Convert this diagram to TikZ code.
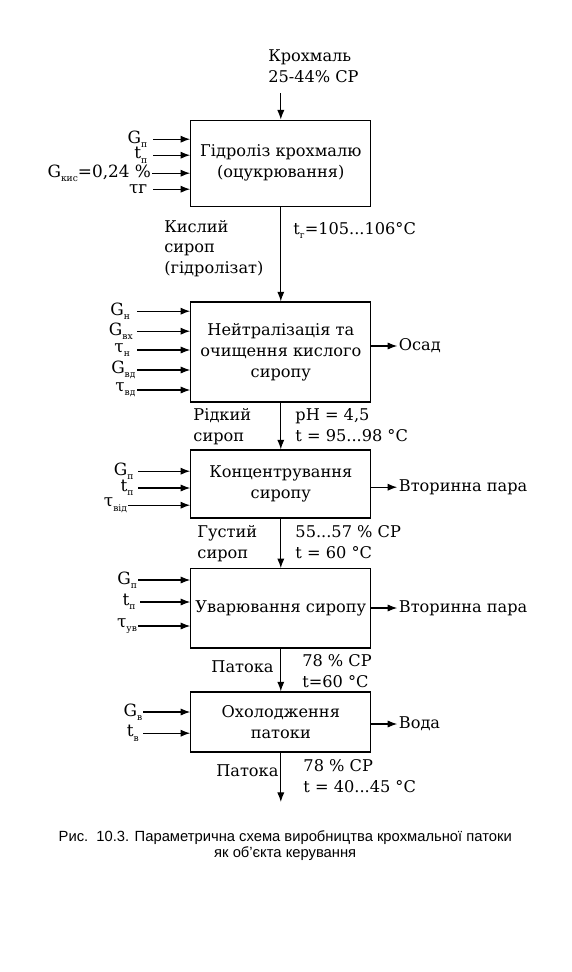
\documentclass[tikz,border=0pt]{standalone}
\usepackage{fontspec}
\setmainfont{DejaVu Serif}
\newfontfamily\capfont{Liberation Sans}
\usepackage{tikz}
\usetikzlibrary{calc,arrows.meta}
\newcommand{\lowsub}[1]{\raisebox{-0.5ex}{\fontsize{6.5}{7}\selectfont #1}}

\begin{document}
\begin{tikzpicture}[x=1cm,y=1cm,
  blockbox/.style={draw,line width=0.9pt,minimum width=4.50cm,align=center,inner sep=2pt,font=\fontsize{11.5}{14.8}\selectfont},
  inlabel/.style={anchor=east,inner xsep=3pt,inner ysep=0pt,font=\fontsize{12}{13}\selectfont},
  outlabel/.style={anchor=west,inner sep=1pt,font=\fontsize{11.5}{12.5}\selectfont},
  flowlabel/.style={anchor=base west,align=left,inner sep=0pt,font=\fontsize{11.5}{14.5}\selectfont},
  flow/.style={line width=0.8pt,-{Latex[length=2.4mm,width=1.8mm]}}]
\path[use as bounding box] (0,0) rectangle (14.275,-24.30);

\node[flowlabel] (starch) at (6.70,-2.05) {Крохмаль\\25-44\% СР};
\coordinate (feed) at (7.02,-2.33);

\node[blockbox,minimum height=2.15cm] (b1) at (7.02,-4.08) {Гідроліз крохмалю\\(оцукрювання)};
\node[blockbox,minimum height=2.50cm] (b2) at (7.02,-8.80) {Нейтралізація та\\очищення кислого\\сиропу};
\node[blockbox,minimum height=1.70cm] (b3) at (7.02,-12.10) {Концентрування\\сиропу};
\node[blockbox,minimum height=1.98cm] (b4) at (7.02,-15.21) {Уварювання сиропу};
\node[blockbox,minimum height=1.50cm] (b5) at (7.02,-18.05) {Охолодження\\патоки};
\coordinate (outlet) at (7.02,-20.05);

\draw[flow] (feed) -- (b1.north);
\draw[flow] (b1.south) -- (b2.north);
\draw[flow] (b2.south) -- (b3.north);
\draw[flow] (b3.south) -- (b4.north);
\draw[flow] (b4.south) -- (b5.north);
\draw[flow] (b5.south) -- (outlet);

\node[inlabel,inner xsep=4pt] (gp1) at (3.83,-3.48) {G\lowsub{п}};
\node[inlabel,inner xsep=4pt] (tp1) at (3.83,-3.88) {t\lowsub{п}};
\node[inlabel,inner xsep=0.5pt] (gk1) at (3.80,-4.33) {G\lowsub{кис}=0,24 \%};
\node[inlabel,inner xsep=4pt] (tg1) at (3.83,-4.73) {τг};
\foreach \n in {gp1,tp1,gk1,tg1}
  \draw[flow] (\n.east) -- (\n.east -| b1.west);

\node[inlabel,inner xsep=5pt] (gn2) at (3.43,-7.78) {G\lowsub{н}};
\node[inlabel] (gv2) at (3.43,-8.28) {G\lowsub{вх}};
\node[inlabel,inner xsep=5pt] (tn2) at (3.43,-8.75) {τ\lowsub{н}};
\node[inlabel,inner xsep=1pt] (gd2) at (3.43,-9.25) {G\lowsub{вд}};
\node[inlabel,inner xsep=1pt] (td2) at (3.43,-9.75) {τ\lowsub{вд}};
\foreach \n in {gn2,gv2,tn2,gd2,td2}
  \draw[flow] (\n.east) -- (\n.east -| b2.west);

\node[inlabel] (gp3) at (3.45,-11.78) {G\lowsub{п}};
\node[inlabel] (tp3) at (3.45,-12.20) {t\lowsub{п}};
\node[inlabel,inner xsep=0.5pt] (tv3) at (3.20,-12.63) {τ\lowsub{від}};
\foreach \n in {gp3,tp3,tv3}
  \draw[flow] (\n.east) -- (\n.east -| b3.west);

\node[inlabel,inner xsep=0.5pt] (gp4) at (3.45,-14.50) {G\lowsub{п}};
\node[inlabel] (tp4) at (3.50,-15.05) {t\lowsub{п}};
\node[inlabel,inner xsep=0.5pt] (tu4) at (3.45,-15.65) {τ\lowsub{ув}};
\foreach \n in {gp4,tp4,tu4}
  \draw[flow] (\n.east) -- (\n.east -| b4.west);

\node[inlabel,inner xsep=0.5pt] (gv5) at (3.58,-17.80) {G\lowsub{в}};
\node[inlabel] (tv5) at (3.58,-18.33) {t\lowsub{в}};
\foreach \n in {gv5,tv5}
  \draw[flow] (\n.east) -- (\n.east -| b5.west);

\node[outlabel] (osad) at (9.93,-8.65) {Осад};
\node[outlabel] (vapor3) at (9.93,-12.18) {Вторинна пара};
\node[outlabel] (vapor4) at (9.93,-15.20) {Вторинна пара};
\node[outlabel] (water) at (9.93,-18.10) {Вода};
\draw[flow] (b2.east |- osad) -- (osad.west);
\draw[flow] (b3.east |- vapor3) -- (vapor3.west);
\draw[flow] (b4.east |- vapor4) -- (vapor4.west);
\draw[flow] (b5.east |- water) -- (water.west);

\node[flowlabel] (acid) at (4.10,-6.83) {Кислий\\сироп\\(гідролізат)};
\node[flowlabel] (temp1) at (7.33,-5.85) {t\lowsub{г}=105...106°C};
\node[flowlabel] (liquid) at (4.83,-11.03) {Рідкий\\сироп};
\node[flowlabel] (temp2) at (7.38,-11.03) {pH = 4,5\\t = 95...98 °C};
\node[flowlabel] (thick) at (4.93,-13.95) {Густий\\сироп};
\node[flowlabel] (temp3) at (7.38,-13.95) {55...57 \% СР\\t = 60 °C};
\node[flowlabel] (molas4) at (5.28,-16.80) {Патока};
\node[flowlabel] (temp4) at (7.55,-17.18) {78 \% СР\\t=60 °C};
\node[flowlabel] (molas5) at (5.40,-19.40) {Патока};
\node[flowlabel] (temp5) at (7.58,-19.80) {78 \% СР\\t = 40...45 °C};

\node[anchor=base,align=center,inner sep=0pt,font=\capfont\fontsize{10.5}{11.2}\selectfont] (caption) at (7.13,-21.43) {Рис.\ \ 10.3. Параметрична схема виробництва крохмальної патоки\\як об’єкта керування};
\end{tikzpicture}
\end{document}
